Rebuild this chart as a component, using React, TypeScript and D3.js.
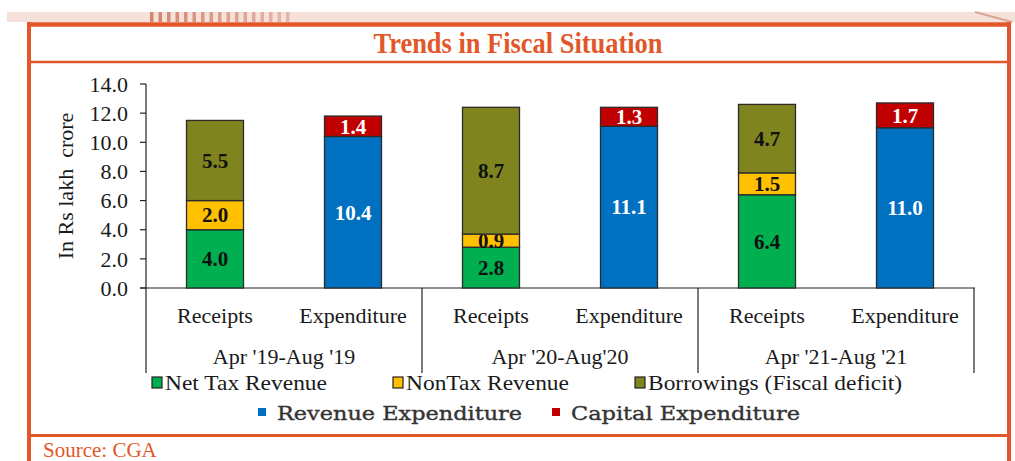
import * as d3 from "d3";

// values in Rs lakh crore
const periods = ["Apr '19-Aug '19", "Apr '20-Aug'20", "Apr '21-Aug '21"];
const kinds = ["Receipts", "Expenditure"];
const netTax = [4.0, 2.8, 6.4];
const nonTax = [2.0, 0.9, 1.5];
const borrowings = [5.5, 8.7, 4.7];
const revenueExp = [10.4, 11.1, 11.0];
const capitalExp = [1.4, 1.3, 1.7];

const receiptSeries = [
  { key: "netTax", name: "Net Tax Revenue", color: "#00B050", values: netTax },
  { key: "nonTax", name: "NonTax Revenue", color: "#FFC000", values: nonTax },
  { key: "borrowings", name: "Borrowings (Fiscal deficit)", color: "#7F841F", values: borrowings },
];
const expSeries = [
  { key: "revenueExp", name: "Revenue Expenditure", color: "#0070C0", values: revenueExp },
  { key: "capitalExp", name: "Capital Expenditure", color: "#C00000", values: capitalExp },
];

const W = 1015;
const H = 461;
const ORANGE = "#E2572A";
const SERIF = "'Liberation Serif', 'Times New Roman', serif";

export default function App() {
  const x0 = d3.scaleBand<string>().domain(periods).range([146, 974]);
  const x1 = d3
    .scaleBand<string>()
    .domain(kinds)
    .range([0, x0.bandwidth()])
    .paddingInner(0.587)
    .paddingOuter(0.2935);
  const y = d3.scaleLinear().domain([0, 14]).range([288, 84]);
  const fmt = d3.format(".1f");

  const rows = periods.map((p, i) => {
    const r: any = { period: p };
    receiptSeries.forEach((s) => (r[s.key] = s.values[i]));
    expSeries.forEach((s) => (r[s.key] = s.values[i]));
    return r;
  });

  const recStack = d3.stack<any>().keys(receiptSeries.map((s) => s.key))(rows);
  const expStack = d3.stack<any>().keys(expSeries.map((s) => s.key))(rows);

  const drawStack = (stack: any[], series: any[], kind: string, textColor: string) =>
    stack.map((layer, li) =>
      layer.map((d: any, i: number) => {
        const bx = (x0(periods[i]) as number) + (x1(kind) as number);
        const y0 = y(d[0]);
        const y1 = y(d[1]);
        return (
          <g key={`${kind}-${li}-${i}`}>
            <rect
              x={bx}
              y={y1}
              width={x1.bandwidth()}
              height={y0 - y1}
              fill={series[li].color}
              stroke="#2b2b2b"
              strokeWidth={1.3}
            />
            <text
              x={bx + x1.bandwidth() / 2}
              y={(y0 + y1) / 2}
              dy="0.35em"
              textAnchor="middle"
              fontFamily={SERIF}
              fontWeight="bold"
              fontSize={21}
              fill={textColor}
            >
              {fmt(d[1] - d[0])}
            </text>
          </g>
        );
      })
    );

  const stripes = d3.range(150, 292, 8.5);
  const legend1 = [
    { s: receiptSeries[0], x: 152, len: 162 },
    { s: receiptSeries[1], x: 393, len: 163 },
    { s: receiptSeries[2], x: 635, len: 254 },
  ];
  const legend2 = [
    { s: expSeries[0], x: 258, len: 245 },
    { s: expSeries[1], x: 552, len: 229 },
  ];

  return (
    <div style={{ position: "absolute", left: 0, top: 0 }}>
      <svg width={W} height={H} style={{ display: "block", background: "#fff" }}>
        {/* decorative header strip */}
        <rect x={7} y={12} width={1008} height={10} fill="#f5e1da" />
        {stripes.map((sx, i) => (
          <rect key={i} x={sx} y={12} width={3.5} height={10} fill="#c9664a" opacity={0.75 - i * 0.025} />
        ))}
        <line x1={975} y1={12} x2={1012} y2={22} stroke="#d9a595" strokeWidth={2} />

        {/* frame */}
        <line x1={29} y1={22} x2={29} y2={H} stroke={ORANGE} strokeWidth={4} />
        <line x1={1009} y1={22} x2={1009} y2={H} stroke={ORANGE} strokeWidth={4} />
        <line x1={27} y1={24.5} x2={1011} y2={24.5} stroke={ORANGE} strokeWidth={4.5} />
        <line x1={29} y1={62} x2={1009} y2={62} stroke={ORANGE} strokeWidth={2.5} />
        <line x1={29} y1={435.5} x2={1009} y2={435.5} stroke={ORANGE} strokeWidth={3} />

        <text
          x={518}
          y={53}
          textAnchor="middle"
          fontFamily={SERIF}
          fontWeight="bold"
          fontSize={29}
          fill={ORANGE}
          textLength={289}
          lengthAdjust="spacingAndGlyphs"
        >
          Trends in Fiscal Situation
        </text>

        {/* y axis */}
        <line x1={146} y1={84} x2={146} y2={373} stroke="#222" strokeWidth={1.2} />
        {y.ticks(7).map((t) => (
          <g key={t}>
            <line x1={140} x2={146} y1={y(t)} y2={y(t)} stroke="#222" strokeWidth={1.2} />
            <text
              x={128}
              y={y(t)}
              dy="0.35em"
              textAnchor="end"
              fontFamily={SERIF}
              fontSize={22}
              fill="#1a1a1a"
            >
              {fmt(t)}
            </text>
          </g>
        ))}
        <text
          transform="translate(73,186) rotate(-90)"
          textAnchor="middle"
          fontFamily={SERIF}
          fontSize={22}
          fill="#1a1a1a"
          style={{ whiteSpace: "pre" }}
        >
          {"In Rs lakh  crore"}
        </text>

        {/* x axis */}
        <line x1={140} x2={975} y1={y(0)} y2={y(0)} stroke="#222" strokeWidth={1.2} />
        {periods.map((p) => {
          const gx = x0(p) as number;
          return (
            <g key={p}>
              <line x1={gx + x0.bandwidth()} x2={gx + x0.bandwidth()} y1={y(0)} y2={373} stroke="#222" strokeWidth={1.2} />
              {kinds.map((k) => (
                <text
                  key={k}
                  x={gx + (x1(k) as number) + x1.bandwidth() / 2}
                  y={323}
                  textAnchor="middle"
                  fontFamily={SERIF}
                  fontSize={22}
                  fill="#1a1a1a"
                >
                  {k}
                </text>
              ))}
              <text
                x={gx + x0.bandwidth() / 2}
                y={364}
                textAnchor="middle"
                fontFamily={SERIF}
                fontSize={22}
                fill="#1a1a1a"
              >
                {p}
              </text>
            </g>
          );
        })}

        {/* bars */}
        {drawStack(recStack, receiptSeries, "Receipts", "#111")}
        {drawStack(expStack, expSeries, "Expenditure", "#fff")}

        {/* legend */}
        {legend1.map(({ s, x, len }) => (
          <g key={s.key}>
            <rect x={x} y={377} width={10} height={11} fill={s.color} stroke="#222" strokeWidth={1.2} />
            <text
              x={x + 13}
              y={390}
              fontFamily={SERIF}
              fontSize={22}
              fill="#1a1a1a"
              textLength={len}
              lengthAdjust="spacingAndGlyphs"
            >
              {s.name}
            </text>
          </g>
        ))}
        {legend2.map(({ s, x, len }) => (
          <g key={s.key}>
            <rect x={x} y={408} width={8} height={8} fill={s.color} />
            <text
              x={x + 19}
              y={420}
              fontFamily="'DejaVu Serif', serif"
              fontSize={18}
              fill="#333"
              stroke="#333"
              strokeWidth={0.35}
              textLength={len}
              lengthAdjust="spacingAndGlyphs"
            >
              {s.name}
            </text>
          </g>
        ))}

        <text x={43} y={457} fontFamily={SERIF} fontSize={21} fill={ORANGE}>
          Source: CGA
        </text>
      </svg>
    </div>
  );
}
